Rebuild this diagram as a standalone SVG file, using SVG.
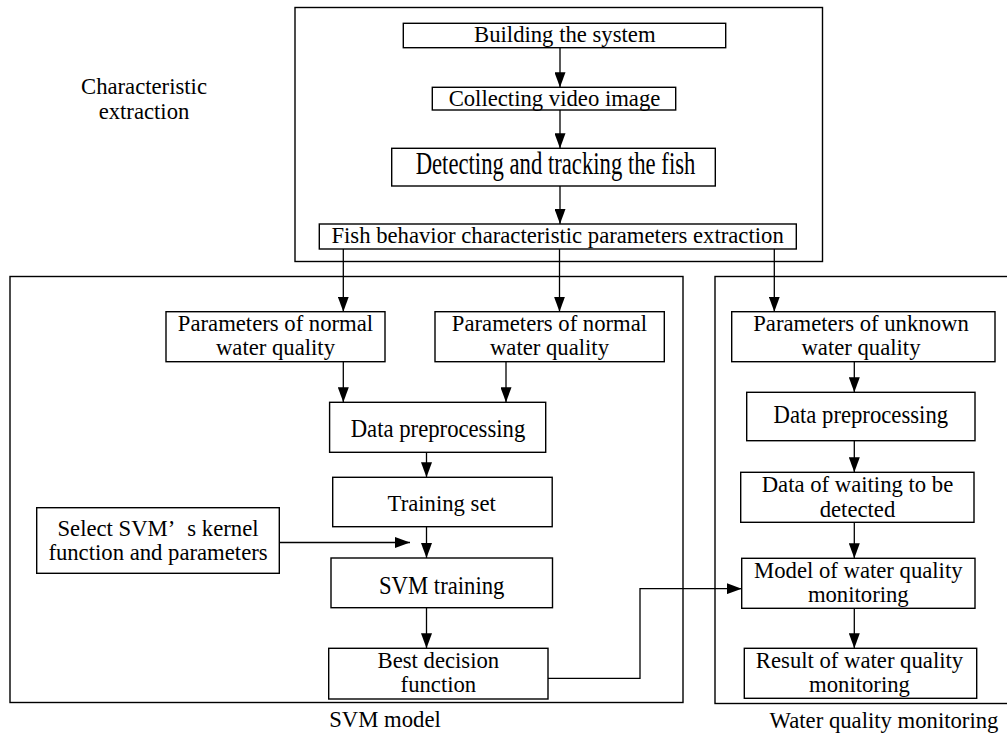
<svg xmlns="http://www.w3.org/2000/svg" width="1007" height="733" viewBox="0 0 1007 733">
<style>
.frame{fill:none;stroke:#000;stroke-width:1.4}
.box{fill:#fff;stroke:#000;stroke-width:1.4}
.t{font-family:"Liberation Serif","Times New Roman",serif;font-size:22.7px;fill:#000;text-anchor:middle}
.c{fill:none;stroke:#000;stroke-width:1.3}
</style>
<defs>
<marker id="ah" markerUnits="userSpaceOnUse" markerWidth="15" markerHeight="11" refX="15" refY="5.5" orient="auto">
<path d="M0,0 L15,5.5 L0,11 z" fill="#000"/>
</marker>
</defs>
<rect width="1007" height="733" fill="#fff"/>

<g id="frames">
<rect class="frame" x="295" y="7.5" width="527.5" height="254"/>
<rect class="frame" x="10" y="276.5" width="673" height="426"/>
<rect class="frame" x="715" y="276.5" width="300" height="427"/>
<text class="t" x="144" y="94">Characteristic</text>
<text class="t" x="144" y="119">extraction</text>
<text class="t" x="385" y="727">SVM model</text>
<text class="t" x="884" y="727.5">Water quality monitoring</text>
</g>

<g id="connectors">
<line class="c" x1="560" y1="47.7" x2="560" y2="87.3" marker-end="url(#ah)"/>
<line class="c" x1="560" y1="110" x2="560" y2="148.3" marker-end="url(#ah)"/>
<line class="c" x1="560" y1="186" x2="560" y2="224" marker-end="url(#ah)"/>
<line class="c" x1="343.3" y1="249" x2="343.3" y2="311.7" marker-end="url(#ah)"/>
<line class="c" x1="559.5" y1="249" x2="559.5" y2="311.7" marker-end="url(#ah)"/>
<line class="c" x1="774.3" y1="249" x2="774.3" y2="311.7" marker-end="url(#ah)"/>
<line class="c" x1="343.3" y1="361.7" x2="343.3" y2="402.3" marker-end="url(#ah)"/>
<line class="c" x1="506" y1="361.7" x2="506" y2="402.3" marker-end="url(#ah)"/>
<line class="c" x1="426.5" y1="452.3" x2="426.5" y2="477.3" marker-end="url(#ah)"/>
<line class="c" x1="426.5" y1="526.7" x2="426.5" y2="558" marker-end="url(#ah)"/>
<line class="c" x1="279.3" y1="542.5" x2="410" y2="542.5" marker-end="url(#ah)"/>
<line class="c" x1="426.5" y1="607.7" x2="426.5" y2="648.3" marker-end="url(#ah)"/>
<polyline class="c" points="548,678.3 640,678.3 640,588.7 741.7,588.7" marker-end="url(#ah)"/>
<line class="c" x1="854.3" y1="361.7" x2="854.3" y2="392.3" marker-end="url(#ah)"/>
<line class="c" x1="854.3" y1="440.7" x2="854.3" y2="472.3" marker-end="url(#ah)"/>
<line class="c" x1="854.3" y1="522.3" x2="854.3" y2="558.3" marker-end="url(#ah)"/>
<line class="c" x1="854.3" y1="608.3" x2="854.3" y2="648.3" marker-end="url(#ah)"/>
</g>

<g id="n-building">
<rect class="box" x="403.3" y="23.3" width="322.4" height="24.4"/>
<text class="t" x="564.8" y="42">Building the system</text>
</g>
<g id="n-collecting">
<rect class="box" x="432.3" y="87.3" width="243.4" height="22.7"/>
<text class="t" x="554.5" y="106">Collecting video image</text>
</g>
<g id="n-detecting">
<rect class="box" x="391.7" y="148.3" width="323.6" height="37.7"/>
<text class="t" transform="translate(555.5,174) scale(1,1.35)" x="0" y="0">Detecting and tracking the fish</text>
</g>
<g id="n-fish">
<rect class="box" x="319.3" y="224" width="477" height="25"/>
<text class="t" x="557.6" y="243.3">Fish behavior characteristic parameters extraction</text>
</g>
<g id="n-normal1">
<rect class="box" x="166" y="311.7" width="219" height="50"/>
<text class="t" x="275.5" y="330.7">Parameters of normal</text>
<text class="t" x="275.5" y="355">water quality</text>
</g>
<g id="n-normal2">
<rect class="box" x="435" y="311.7" width="229.3" height="50"/>
<text class="t" x="549.5" y="330.7">Parameters of normal</text>
<text class="t" x="549.5" y="355">water quality</text>
</g>
<g id="n-dataprep1">
<rect class="box" x="329.6" y="402.3" width="216.1" height="50"/>
<text class="t" transform="translate(438,436.5) scale(1,1.1)" x="0" y="0">Data preprocessing</text>
</g>
<g id="n-training">
<rect class="box" x="332.7" y="477.3" width="219.5" height="49.4"/>
<text class="t" transform="translate(441.7,511) scale(1,1.05)" x="0" y="0">Training set</text>
</g>
<g id="n-select">
<rect class="box" x="36.7" y="507.7" width="242.6" height="65.6"/>
<text class="t" x="158" y="536">Select SVM’ <tspan dx="8">s kernel</tspan></text>
<text class="t" x="158" y="560">function and parameters</text>
</g>
<g id="n-svmtrain">
<rect class="box" x="331" y="558" width="221.5" height="49.7"/>
<text class="t" transform="translate(441.7,593.5) scale(1,1.1)" x="0" y="0">SVM training</text>
</g>
<g id="n-best">
<rect class="box" x="328.7" y="648.3" width="219.3" height="50.7"/>
<text class="t" x="438.4" y="668.3">Best decision</text>
<text class="t" x="438.4" y="692">function</text>
</g>
<g id="n-unknown">
<rect class="box" x="731.7" y="311.7" width="263.3" height="50"/>
<text class="t" x="861" y="330.7">Parameters of unknown</text>
<text class="t" x="861" y="355">water quality</text>
</g>
<g id="n-dataprep2">
<rect class="box" x="746.7" y="392.3" width="228.3" height="48.4"/>
<text class="t" transform="translate(860.8,423.3) scale(1,1.1)" x="0" y="0">Data preprocessing</text>
</g>
<g id="n-waiting">
<rect class="box" x="740.7" y="472.3" width="233.3" height="50"/>
<text class="t" x="857.5" y="491.7">Data of waiting to be</text>
<text class="t" x="857.5" y="516.5">detected</text>
</g>
<g id="n-model">
<rect class="box" x="741.7" y="558.3" width="233.3" height="50"/>
<text class="t" x="858.3" y="577.7">Model of water quality</text>
<text class="t" x="858.3" y="602">monitoring</text>
</g>
<g id="n-result">
<rect class="box" x="744.3" y="648.3" width="232.4" height="50"/>
<text class="t" x="859.5" y="668.3">Result of water quality</text>
<text class="t" x="859.5" y="691.7">monitoring</text>
</g>
</svg>
